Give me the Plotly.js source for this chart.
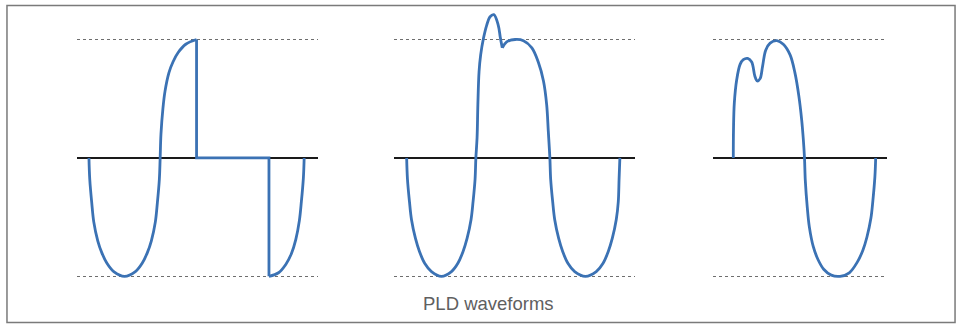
<!DOCTYPE html>
<html>
<head>
<meta charset="utf-8">
<script src="https://cdn.plot.ly/plotly-3.0.1.min.js"></script>
<style>
  body { margin: 0; background: #fff; }
  #myDiv { width: 956px; height: 325px; }
</style>
</head>
<body>
<div id="myDiv"></div>
<script>
// phase in degrees, value in per-unit of peak
// panel 1: wave with a blanked section
let p1Phase = [0, 2, 7, 12, 22, 32, 45, 62, 89, 116, 133, 146, 156, 166, 171, 176, 178, 180, 185, 190, 200, 210, 223, 242, 269];
let p1Value = [0, -0.18, -0.38, -0.54, -0.70, -0.80, -0.89, -0.96, -1.0, -0.96, -0.89, -0.80, -0.70, -0.54, -0.38, -0.18, 0, 0.20, 0.42, 0.56, 0.72, 0.81, 0.89, 0.96, 1.0];
let p1CutPhase = [269, 269, 450, 450];
let p1CutValue = [1.0, 0, 0, -1.0];
let p1TailPhase = [450, 474, 492, 506, 517, 526, 531, 536, 538];
let p1TailValue = [-1.0, -0.97, -0.90, -0.81, -0.69, -0.53, -0.37, -0.17, 0];

// panel 2: overshoot spike on the positive half
let p2Phase = [0, 2, 7, 12, 22, 32, 45, 62, 87, 112, 128, 141, 151, 161, 166, 171, 173, 176, 178, 181, 185, 192, 200, 208, 218, 229, 234, 239];
let p2Value = [0, -0.18, -0.37, -0.52, -0.68, -0.79, -0.89, -0.96, -1.0, -0.96, -0.89, -0.79, -0.68, -0.52, -0.37, -0.18, 0, 0.17, 0.45, 0.73, 0.87, 1.01, 1.12, 1.19, 1.21, 1.12, 1.02, 0.93];
let p2TailPhase = [239, 250, 271, 292, 313, 329, 342, 350, 354, 358, 360, 365, 370, 380, 390, 403, 420, 447, 474, 491, 504, 514, 524, 529, 531, 533];
let p2TailValue = [0.93, 0.98, 1.0, 0.99, 0.93, 0.81, 0.65, 0.45, 0.23, 0, -0.18, -0.37, -0.52, -0.68, -0.79, -0.89, -0.96, -1.0, -0.96, -0.89, -0.79, -0.68, -0.52, -0.37, -0.18, 0];

// panel 3: double hump
let p3Phase = [0, 0.5, 2.5, 8.5, 17, 25, 36, 46, 54, 60, 67, 73, 81, 92, 109, 125, 142, 154, 164, 171, 175, 178, 180, 185, 190, 200, 212, 226, 245, 267, 290, 310, 324, 334, 344, 349, 354, 356];
let p3Value = [0, 0.24, 0.46, 0.66, 0.79, 0.83, 0.84, 0.81, 0.69, 0.65, 0.67, 0.77, 0.91, 0.97, 0.99, 0.96, 0.87, 0.72, 0.52, 0.32, 0.16, 0, -0.19, -0.42, -0.58, -0.75, -0.86, -0.94, -0.99, -1.0, -0.97, -0.88, -0.78, -0.67, -0.51, -0.36, -0.16, 0];

let caption = 'PLD waveforms';

const blue = '#3b72b4';

function wave(x, y, axis, shape) {
    return {
        x: x,
        y: y,
        xaxis: 'x' + axis,
        yaxis: 'y' + axis,
        mode: 'lines',
        line: { color: blue, width: 2.8, shape: shape },
        hoverinfo: 'skip',
        showlegend: false
    };
}

let data = [
    wave(p1Phase, p1Value, '', 'spline'),
    wave(p1CutPhase, p1CutValue, '', 'linear'),
    wave(p1TailPhase, p1TailValue, '', 'spline'),
    wave(p2Phase, p2Value, '2', 'spline'),
    wave(p2TailPhase, p2TailValue, '2', 'spline'),
    wave(p3Phase, p3Value, '3', 'spline')
];

function xAxis(domain, range, anchor) {
    return {
        domain: domain, range: range, anchor: anchor,
        showgrid: false, zeroline: false, showline: false,
        showticklabels: false, ticks: '', fixedrange: true
    };
}

function yAxis(anchor) {
    return {
        anchor: anchor,
        range: [-1.2, 1.3],
        tickvals: [-1, 1],
        showticklabels: false, ticks: '',
        showgrid: true, gridcolor: '#6e6e6e', gridwidth: 1.5, griddash: 'dot',
        zeroline: true, zerolinecolor: '#1a1a1a', zerolinewidth: 1.5,
        showline: false, fixedrange: true
    };
}

let layout = {
    width: 956,
    height: 325,
    margin: { l: 0, r: 0, t: 4, b: 25 },
    paper_bgcolor: '#fff',
    plot_bgcolor: 'rgba(0,0,0,0)',
    xaxis: xAxis([0.0805, 0.3326], [-30, 572.5], 'y'),
    yaxis: yAxis('x'),
    xaxis2: xAxis([0.4121, 0.6642], [-31.75, 570.75], 'y2'),
    yaxis2: yAxis('x2'),
    xaxis3: xAxis([0.7455, 0.9275], [-51.5, 383.5], 'y3'),
    yaxis3: yAxis('x3'),
    shapes: [{
        type: 'rect', xref: 'paper', yref: 'paper',
        x0: 0.0073, x1: 0.999, y0: -0.076, y1: 0.9949,
        line: { color: '#7a7a7a', width: 1.5 }
    }],
    annotations: [{
        text: caption,
        xref: 'paper', yref: 'paper',
        x: 0.5115, y: -0.012,
        xanchor: 'center', yanchor: 'middle',
        showarrow: false,
        font: { family: 'Liberation Sans, Arial, sans-serif', size: 18.5, color: '#606060' }
    }]
};

Plotly.newPlot('myDiv', data, layout, { staticPlot: true, displayModeBar: false });
</script>
</body>
</html>
